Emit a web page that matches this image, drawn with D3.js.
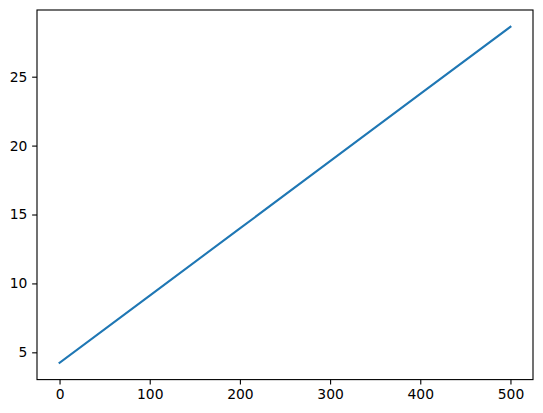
<html>
<head>
<script src="https://d3js.org/d3.v7.min.js"></script>
<style>
body { margin: 0; background: #fff; }
svg { display: block; }
.tick text { font-family: 'DejaVu Sans', sans-serif; font-size: 13.89px; fill: #000; }
</style>
</head>
<body>
<div id="chart"></div>
<script>
// values
var xs = [0, 100, 200, 300, 400, 500];
var ys = [4.24, 9.12, 13.99, 18.87, 23.75, 28.62];
var xTicks = [0, 100, 200, 300, 400, 500];
var yTicks = [5, 10, 15, 20, 25];

var W = 543, H = 413;
var margin = {left: 37, top: 10, right: 10, bottom: 33.4};
var w = W - margin.left - margin.right;
var h = H - margin.top - margin.bottom;

var svg = d3.select("#chart").append("svg").attr("width", W).attr("height", H);
var g = svg.append("g").attr("transform", "translate(" + margin.left + "," + margin.top + ")");

// matplotlib style 5% margins
var xpad = (d3.max(xs) - d3.min(xs)) * 0.05;
var ypad = (d3.max(ys) - d3.min(ys)) * 0.05;
var x = d3.scaleLinear().domain([d3.min(xs) - xpad, d3.max(xs) + xpad]).range([0, w]);
var y = d3.scaleLinear().domain([d3.min(ys) - ypad, d3.max(ys) + ypad]).range([h, 0]);

var tick = 4.86, pad = 4.86;

var xAxis = g.append("g").attr("transform", "translate(0," + h + ")")
  .call(d3.axisBottom(x).tickValues(xTicks).tickFormat(d3.format("d")).tickSize(tick).tickPadding(pad));
var yAxis = g.append("g")
  .call(d3.axisLeft(y).tickValues(yTicks).tickFormat(d3.format("d")).tickSize(tick).tickPadding(pad));

[xAxis, yAxis].forEach(function(a) {
  a.select(".domain").remove();
  a.selectAll(".tick line").attr("stroke", "#000").attr("stroke-width", 1.11);
  a.attr("font-family", null).attr("font-size", null);
});

var pts = xs.map(function(d, i) { return [d, ys[i]]; });
g.append("path")
  .datum(pts)
  .attr("fill", "none")
  .attr("stroke", "#1f77b4")
  .attr("stroke-width", 2.08)
  .attr("stroke-linecap", "square")
  .attr("d", d3.line().x(function(d) { return x(d[0]); }).y(function(d) { return y(d[1]); }));

// frame
g.append("rect")
  .attr("width", w).attr("height", h)
  .attr("fill", "none").attr("stroke", "#000").attr("stroke-width", 1.11);
</script>
</body>
</html>
